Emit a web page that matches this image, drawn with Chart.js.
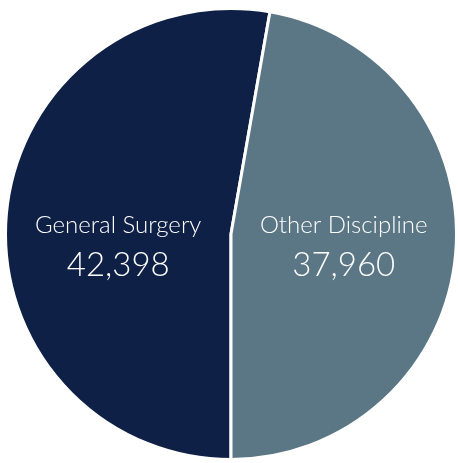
<!DOCTYPE html>
<html>
<head>
<meta charset="utf-8">
<script src="https://cdn.jsdelivr.net/npm/chart.js@4"></script>
<style>
  html, body { margin: 0; padding: 0; background: #ffffff; }
  #wrap { width: 458px; height: 463px; }
</style>
</head>
<body>
<div id="wrap"><canvas id="pie"></canvas></div>
<script>
const categories = ["General Surgery", "Other Discipline"];
const counts = [42398, 37960];
const sliceColors = ["#0f2046", "#5b7685"];

// draws the name + number inside each half
const sliceLabels = {
  id: "sliceLabels",
  afterDatasetsDraw(chart) {
    const ctx = chart.ctx;
    const meta = chart.getDatasetMeta(0);
    ctx.save();
    ctx.fillStyle = "#ffffff";
    ctx.textAlign = "center";
    ctx.textBaseline = "alphabetic";
    meta.data.forEach((arc, i) => {
      const side = i === 0 ? -1 : 1;
      const x = arc.x + side * arc.outerRadius * 0.5;
      ctx.font = "300 24px Lato";
      ctx.fillText(categories[i], x, arc.y - 1);
      ctx.font = "300 33px Lato";
      ctx.fillText(counts[i].toLocaleString("en-US"), x, arc.y + 42);
    });
    ctx.restore();
  },
};

new Chart(document.getElementById("pie"), {
  type: "pie",
  data: {
    labels: categories,
    datasets: [
      {
        data: counts,
        backgroundColor: sliceColors,
        borderColor: "#ffffff",
        borderWidth: 3,
      },
    ],
  },
  options: {
    responsive: true,
    maintainAspectRatio: false,
    animation: false,
    rotation: 180,
    layout: { padding: { left: 4, right: -1, top: 5, bottom: -4 } },
    plugins: {
      legend: { display: false },
      tooltip: { enabled: false },
    },
  },
  plugins: [sliceLabels],
});
</script>
</body>
</html>
